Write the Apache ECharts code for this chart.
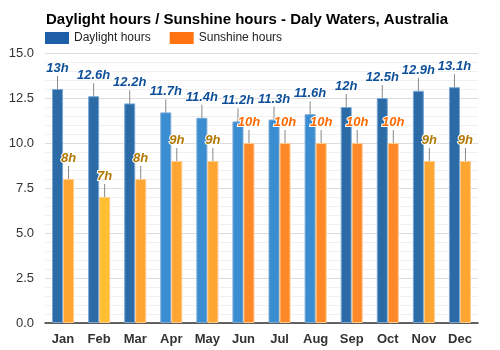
<!DOCTYPE html>
<html>
<head>
<meta charset="utf-8">
<script src="https://cdn.jsdelivr.net/npm/echarts@6/dist/echarts.min.js"></script>
<style>
  html, body { margin: 0; padding: 0; background: #fff; }
  #chart { width: 500px; height: 350px; }
</style>
</head>
<body>
<div id="chart"></div>
<script>
var months = ['Jan', 'Feb', 'Mar', 'Apr', 'May', 'Jun', 'Jul', 'Aug', 'Sep', 'Oct', 'Nov', 'Dec']
var daylight = [13, 12.6, 12.2, 11.7, 11.4, 11.2, 11.3, 11.6, 12, 12.5, 12.9, 13.1]
var sunshine = [8, 7, 8, 9, 9, 10, 10, 10, 10, 10, 9, 9]
var yTicks = ['0.0', '2.5', '5.0', '7.5', '10.0', '12.5', '15.0']

function dayColor (v) {
  return v >= 11.9 ? '#2c6ba6' : '#3a8dd0'
}
function sunColor (v) {
  if (v <= 7) return '#ffbf2f'
  if (v < 10) return '#ffa632'
  return '#ff8828'
}
function sunLabelColor (v) {
  return v >= 10 ? '#ff6a00' : '#b07800'
}

var chart = echarts.init(document.getElementById('chart'))

var labelBase = {
  show: true,
  position: 'top',
  distance: 2,
  fontFamily: 'Liberation Sans, Arial, sans-serif',
  fontSize: 13,
  fontWeight: 'bold',
  fontStyle: 'italic',
  textBorderColor: '#fff',
  textBorderWidth: 2
}

chart.setOption({
  animation: false,
  textStyle: { fontFamily: 'Liberation Sans, Arial, sans-serif' },
  title: {
    text: 'Daylight hours / Sunshine hours - Daly Waters, Australia',
    left: 41,
    top: 7,
    textStyle: { fontSize: 15, fontWeight: 'bold', color: '#000' }
  },
  legend: {
    left: 45,
    top: 32,
    padding: 0,
    itemWidth: 24,
    itemHeight: 12,
    itemGap: 19,
    icon: 'rect',
    textStyle: { fontSize: 12, color: '#222' },
    data: [
      { name: 'Daylight hours', itemStyle: { color: '#1f5fa8' } },
      { name: 'Sunshine hours', itemStyle: { color: '#ff7410' } }
    ]
  },
  grid: { left: 45, right: 22, top: 53, bottom: 27 },
  xAxis: {
    type: 'category',
    data: months,
    axisTick: { show: false },
    axisLine: { lineStyle: { color: '#333', width: 1.5 } },
    axisLabel: { fontSize: 13, fontWeight: 'bold', color: '#333', margin: 10 }
  },
  yAxis: {
    type: 'value',
    min: 0,
    max: 15,
    interval: 2.5,
    axisLabel: {
      fontSize: 13,
      color: '#333',
      margin: 11,
      formatter: function (v) { return yTicks[Math.round(v / 2.5)] }
    },
    splitLine: { lineStyle: { color: '#dcdcdc' } },
    minorTick: { show: false, splitNumber: 5 },
    minorSplitLine: { show: true, lineStyle: { color: '#f0f0f0' } }
  },
  series: [{
    name: 'Daylight hours',
    type: 'bar',
    barWidth: 11,
    barGap: '0%',
    data: daylight.map(function (v) {
      return {
        value: v,
        itemStyle: { color: dayColor(v), borderColor: '#78a8d6', borderWidth: 1 }
      }
    }),
    label: Object.assign({}, labelBase, {
      color: '#0e4f99',
      formatter: function (p) { return p.value + 'h' }
    }),
    labelLayout: { dy: -12 },
    labelLine: { show: true, lineStyle: { color: '#888', width: 1 } }
  }, {
    name: 'Sunshine hours',
    type: 'bar',
    barWidth: 11,
    data: sunshine.map(function (v) {
      return {
        value: v,
        itemStyle: { color: sunColor(v), borderColor: '#ffc98a', borderWidth: 1 },
        label: { color: sunLabelColor(v) }
      }
    }),
    label: Object.assign({}, labelBase, {
      formatter: function (p) { return p.value + 'h' }
    }),
    labelLayout: { dy: -12 },
    labelLine: { show: true, lineStyle: { color: '#888', width: 1 } }
  }]
})
</script>
</body>
</html>
